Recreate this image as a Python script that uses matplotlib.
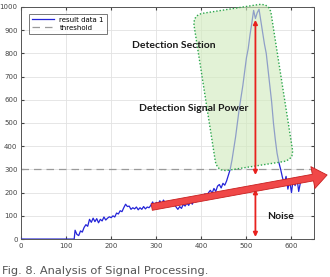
import matplotlib
matplotlib.use('Agg')
import matplotlib.pyplot as plt
from matplotlib.patches import FancyBboxPatch
from matplotlib.transforms import Affine2D

# Datos (x en muestras, y en potencia)
x_vals = [0, 118] + list(range(120, 628, 4))
y_vals = [0, 0,
          38, 20, 15, 35, 30, 50, 62, 55, 85, 72, 90, 75, 88, 70, 85, 78,
          95, 82, 90, 96, 92, 100, 95, 112, 108, 122, 118, 135, 150, 140,
          142, 128, 135, 130, 138, 126, 135, 128, 140, 130, 138, 135, 145,
          160, 140, 158, 150, 165, 150, 168, 155, 162, 148, 158, 145, 150,
          138, 128, 140, 132, 150, 142, 155, 145, 162, 150, 170, 160, 178,
          168, 185, 175, 195, 185, 200, 210, 198, 218, 205, 228, 235, 220,
          240, 232, 250, 275, 300, 340, 390, 440, 500, 560, 610, 660, 720,
          780, 820, 880, 930, 985, 950, 975, 990, 940, 890, 840, 800, 730,
          660, 590, 500, 430, 370, 330, 300, 265, 240, 270, 215, 250, 200,
          260, 230, 265, 205, 245, 255]
threshold = 300
x_ticks = [0, 100, 200, 300, 400, 500, 600]
y_ticks = list(range(0, 1001, 100))

fig = plt.figure(figsize=(3.3, 2.77), dpi=100)
ax = fig.add_axes([0.0636, 0.137, 0.888, 0.838])

ax.plot(x_vals, y_vals, color='#2424d8', lw=0.9, label='result data 1', zorder=3)
ax.axhline(threshold, color='#9a9a9a', ls=(0, (6, 4)), lw=0.9, label='threshold', zorder=2)

ax.set_xlim(0, 650)
ax.set_ylim(0, 1000)
ax.set_xticks(x_ticks)
ax.set_yticks(y_ticks)
ax.tick_params(direction='in', labelsize=5, colors='#444444', length=2.5,
               top=True, right=True, pad=2.5)
ax.grid(True, color='#e2e2e2', lw=0.6)
for s in ax.spines.values():
    s.set_color('#555555')
    s.set_linewidth(0.7)

leg = ax.legend(loc='upper left', fontsize=5, frameon=True, fancybox=False,
                handlelength=3.2, borderpad=0.4, labelspacing=0.3,
                bbox_to_anchor=(0.015, 0.985))
leg.get_frame().set_edgecolor('#555555')
leg.get_frame().set_linewidth(0.7)

# Caja verde rotada (zona de deteccion) en pixeles de figura
box = FancyBboxPatch((0, 0), 78, 159, boxstyle='round,pad=0,rounding_size=11',
                     facecolor=(0.82, 0.92, 0.74, 0.62), edgecolor='#2aa64c',
                     lw=1.0, ls=(0, (1, 1.4)), zorder=5, clip_on=False)
box.set_transform(Affine2D().rotate_deg(8.9).translate(217, 105))
ax.add_patch(box)

# Flechas rojas verticales
arrow_kw = dict(arrowstyle='<|-|>', color='#e8221f', lw=1.3, mutation_scale=6,
                shrinkA=0, shrinkB=0)
ax.annotate('', xy=(520, 944), xytext=(520, 276), arrowprops=arrow_kw, zorder=6)
ax.annotate('', xy=(520, 215), xytext=(520, 9), arrowprops=arrow_kw, zorder=6)

# Flecha gruesa de tendencia de ruido
ax.annotate('', xy=(679, 276), xytext=(290, 138), annotation_clip=False,
            arrowprops=dict(arrowstyle='simple,head_width=2.0,head_length=1.3,tail_width=0.6',
                            facecolor='#f04848', edgecolor='#c82020', lw=0.6,
                            mutation_scale=8, shrinkA=0, shrinkB=0),
            zorder=7)

ax.text(340, 833, 'Detection Section', family='Lato', weight='bold', fontsize=7.5,
        ha='center', va='center', color='#1a1a1a', zorder=8)
ax.text(382, 562, 'Detection Signal Power', family='Lato', weight='bold', fontsize=7.5,
        ha='center', va='center', color='#1a1a1a', zorder=8)
ax.text(575, 99, 'Noise', family='Lato', weight='bold', fontsize=7.5,
        ha='center', va='center', color='#1a1a1a', zorder=8)

fig.text(2 / 330, 6 / 277, 'Fig. 8. Analysis of Signal Processing.', fontsize=8.2,
         color='#555555', ha='left', va='center')

fig.savefig('out.png', dpi=100)
